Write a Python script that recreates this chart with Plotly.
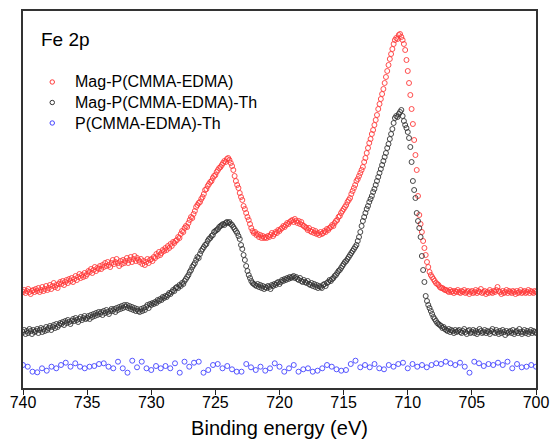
import numpy as np
import plotly.graph_objects as go

# Fe 2p spectra, binding energy 740 -> 700 eV (0.1 eV step), intensities in a.u.
red = [
    96, 98, 95, 97, 99, 96, 94, 97, 98, 96,
    99, 97, 100, 96, 98, 101, 97, 99, 102, 98,
    100, 103, 99, 102, 105, 101, 103, 100, 104, 106,
    104, 107, 103, 106, 108, 105, 109, 107, 110, 106,
    109, 112, 108, 111, 114, 110, 113, 111, 115, 112,
    114, 117, 116, 119, 115, 118, 121, 117, 120, 119,
    122, 119, 123, 121, 125, 122, 126, 123, 121, 125,
    128, 124, 126, 129, 125, 122, 127, 124, 128, 125,
    127, 130, 125, 128, 131, 126, 129, 132, 127, 130,
    128, 126, 129, 124, 127, 123, 126, 129, 125, 128,
    129, 127, 131, 130, 134, 132, 136, 133, 135, 138,
    137, 140, 138, 142, 140, 144, 142, 146, 145, 147,
    148, 151, 150, 154, 157, 156, 160, 162, 161, 165,
    168, 171, 170, 174, 177, 181, 183, 185, 186, 189,
    191, 194, 198, 199, 202, 204, 206, 207, 210, 212,
    213, 216, 218, 220, 221, 223, 225, 227, 226, 229,
    230, 228, 225, 222, 218, 212, 207, 203, 200, 195,
    191, 188, 182, 179, 175, 171, 168, 164, 160, 157,
    155, 156, 153, 154, 151, 153, 150, 152, 150, 151,
    150, 152, 151, 153, 155, 152, 154, 156, 155, 158,
    157, 159, 160, 162, 161, 163, 165, 164, 166, 167,
    168, 166, 169, 167, 165, 167, 164, 166, 163, 162,
    161, 160, 158, 160, 157, 156, 158, 155, 157, 154,
    155, 153, 156, 154, 155, 157, 156, 159, 158, 160,
    161, 163, 162, 165, 167, 168, 171, 172, 175, 177,
    179, 181, 183, 186, 188, 190, 194, 197, 200, 203,
    207, 209, 212, 215, 218, 221, 226, 230, 235, 240,
    245, 249, 254, 258, 263, 268, 273, 279, 284, 289,
    294, 299, 305, 311, 317, 323, 329, 334, 339, 344,
    348, 350, 349, 353, 354, 351, 348, 344, 338, 328,
    317, 305, 293, 279, 264, 248, 233, 218, 192, 173,
    164, 156, 147, 140, 133, 126, 121, 116, 113, 111,
    109, 107, 105, 104, 103, 101, 100, 100, 99, 98,
    98, 97, 96, 98, 96, 97, 95, 97, 96, 98,
    96, 95, 97, 96, 98, 95, 96, 97, 94, 96,
    97, 95, 96, 98, 95, 97, 96, 99, 95, 96,
    97, 94, 96, 95, 98, 96, 95, 97, 96, 98,
    101, 97, 96, 94, 97, 95, 96, 98, 95, 97,
    96, 95, 97, 96, 94, 97, 95, 96, 98, 95,
    96, 97, 95, 96, 98, 95, 97, 96, 95, 97,
    96,
]

black = [
    56, 58, 54, 57, 55, 59, 57, 54, 58, 56,
    57, 59, 55, 58, 60, 56, 59, 57, 61, 58,
    60, 62, 58, 61, 63, 60, 64, 61, 63, 65,
    64, 66, 63, 67, 65, 68, 66, 64, 67, 69,
    67, 70, 68, 66, 69, 71, 68, 70, 72, 69,
    70, 72, 69, 73, 71, 74, 72, 75, 73, 76,
    74, 76, 73, 77, 75, 78, 76, 74, 77, 79,
    77, 79, 76, 80, 78, 81, 79, 82, 80, 83,
    81, 83, 80, 82, 79, 81, 78, 80, 77, 79,
    77, 76, 79, 77, 80, 78, 81, 83, 80, 84,
    83, 85, 84, 86, 85, 88, 87, 89, 88, 91,
    90, 92, 91, 93, 95, 94, 96, 98, 97, 100,
    101, 100, 103, 102, 105, 104, 107, 109, 111, 113,
    116, 118, 121, 123, 125, 128, 131, 130, 134, 137,
    139, 141, 143, 144, 147, 149, 150, 152, 153, 156,
    157, 158, 159, 161, 162, 163, 164, 163, 165, 166,
    165, 166, 164, 163, 161, 159, 157, 155, 152, 149,
    143, 139, 133, 128, 122, 117, 113, 110, 107, 105,
    104, 103, 102, 104, 101, 103, 100, 102, 99, 101,
    100, 102, 101, 99, 103, 102, 104, 103, 105, 106,
    104, 106, 108, 107, 109, 108, 110, 109, 111, 110,
    111, 112, 110, 111, 109, 108, 110, 107, 106, 108,
    106, 105, 107, 104, 103, 105, 102, 104, 101, 103,
    100, 102, 101, 100, 103, 104, 102, 105, 106, 108,
    107, 109, 110, 112, 113, 115, 117, 118, 120, 122,
    124, 126, 127, 129, 131, 133, 135, 137, 139, 141,
    143, 147, 151, 156, 162, 167, 171, 175, 179, 182,
    186, 189, 192, 196, 199, 203, 207, 211, 215, 219,
    223, 227, 231, 235, 240, 244, 249, 254, 259, 265,
    270, 272, 271, 274, 276, 278, 272, 267, 263, 260,
    256, 250, 241, 226, 207, 198, 190, 175, 167, 160,
    151, 132, 118, 106, 92, 87, 83, 80, 77, 74,
    71, 69, 67, 65, 64, 63, 62, 60, 61, 59,
    58, 57, 59, 56, 58, 57, 55, 58, 56, 57,
    58, 56, 55, 57, 59, 56, 54, 57, 58, 55,
    56, 58, 55, 57, 54, 56, 59, 57, 55, 56,
    58, 55, 57, 56, 54, 57, 59, 56, 55, 58,
    56, 54, 57, 55, 58, 56, 53, 57, 55, 56,
    57, 55, 58, 54, 56, 57, 55, 59, 56, 54,
    56, 58, 55, 57, 54, 56, 58, 55, 57, 56,
    55,
]

blue = [
    23, 21.3, 16.3, 15.7, 19.7, 17.3, 21.3, 19.7, 23, 25.3,
    21.3, 24.7, 21.3, 19.7, 21.3, 22, 24, 24.7, 21.3, 19.7,
    26.3, 19.7, 15.3, 27.3, 20.7, 26.3, 19.7, 18, 22, 19.7,
    22, 19.7, 24.7, 15.3, 26.3, 21.3, 25.3, 26.3, 15.3, 18,
    23, 24, 19.7, 22, 18.7, 16.3, 16.3, 24, 20.7, 18,
    21.3, 17.3,
    19.7, 24.7, 21.3, 16.3, 19.7, 23, 16.3, 18.7, 19.7, 16.3,
    17.3, 19.7, 23, 21.3, 18.7, 17.3, 18, 24, 27.3, 20.7,
    23, 20.7, 24, 19.7, 18.7, 23, 21.3, 24, 25.3, 19.7,
    24, 21.3, 23, 20.7, 23, 24.7, 24, 26.3, 24.7, 23,
    25.3, 21.3, 15.3, 26.3, 24.7, 22, 24, 23, 25.3, 23,
    26.3, 19.7, 24, 20.7, 21.3, 23, 21.3,
]

names = ["Mag-P(CMMA-EDMA)", "Mag-P(CMMA-EDMA)-Th", "P(CMMA-EDMA)-Th"]
colors = ["#ff3a3a", "#333333", "#4444ff"]

energy = np.linspace(740, 700, len(red))
energy_blue = np.linspace(740, 700, len(blue))

fig = go.Figure()
for name, xs, ys, col in zip(names, [energy, energy, energy_blue], [red, black, blue], colors):
    fig.add_trace(go.Scatter(
        x=xs, y=ys, mode="markers", name=name, showlegend=False,
        marker=dict(symbol="circle-open", size=5, color=col, line=dict(width=0.9, color=col)),
    ))

# hand-placed legend (rows are tighter than plotly's own legend)
W, H = 513, 377
for i, (name, col) in enumerate(zip(names, colors)):
    yp = (306 - 20.5 * i) / H
    fig.add_shape(type="circle", xref="paper", yref="paper",
                  x0=27 / W, x1=31.5 / W, y0=yp - 2.2 / H, y1=yp + 2.2 / H,
                  line=dict(color=col, width=1))
    fig.add_annotation(text=name, xref="paper", yref="paper", x=50 / W, y=yp,
                       xanchor="left", yanchor="middle", showarrow=False,
                       font=dict(size=16, color="black"))

fig.add_annotation(text="Fe 2p", xref="paper", yref="paper", x=16 / W, y=348 / H,
                   xanchor="left", yanchor="middle", showarrow=False,
                   font=dict(size=19, color="black"))

fig.update_xaxes(range=[740, 700], tickmode="array", tickvals=list(range(740, 699, -5)),
                 ticks="outside", ticklen=5, tickwidth=1.2, tickcolor="#222",
                 ticklabelstandoff=-6,
                 showline=True, mirror=True, linecolor="#333", linewidth=1.5,
                 showgrid=False, zeroline=False, automargin=False,
                 tickfont=dict(size=16, color="black"),
                 title=dict(text="Binding energy (eV)", font=dict(size=20, color="black"), standoff=11))
fig.update_yaxes(range=[0, 377], showticklabels=False, ticks="", automargin=False,
                 showline=True, mirror=True, linecolor="#333", linewidth=1.5,
                 showgrid=False, zeroline=False)

fig.update_layout(
    width=550, height=439,
    margin=dict(l=23, r=14, t=11, b=51),
    paper_bgcolor="white", plot_bgcolor="white",
    font=dict(family="Arial, Liberation Sans, sans-serif", color="black"),
    showlegend=False,
)

fig.write_html("out.html", config={"displayModeBar": False},
               post_script="document.body.style.margin='0';")
